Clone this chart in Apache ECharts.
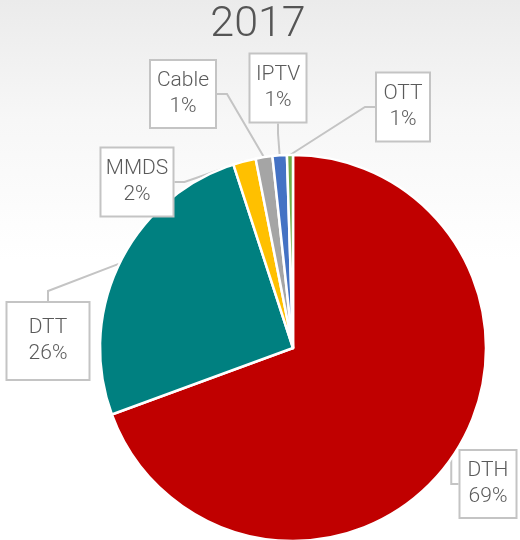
<!DOCTYPE html>
<html>
<head>
<meta charset="utf-8">
<script src="https://cdn.jsdelivr.net/npm/echarts@6/dist/echarts.min.js"></script>
<style>
  html, body { margin: 0; padding: 0; }
  #chart {
    width: 520px;
    height: 540px;
    background: linear-gradient(to bottom, #ebebeb 0px, #f7f7f7 120px, #ffffff 260px);
  }
</style>
</head>
<body>
<div id="chart"></div>
<script>
// 2017 platform share
var titleText = '2017';
var categories = ['DTH', 'DTT', 'MMDS', 'Cable', 'IPTV', 'OTT'];
var shares = [69.4, 25.6, 1.9, 1.4, 1.2, 0.5];
var colors = ['#C00000', '#008080', '#FFC000', '#A5A5A5', '#4472C4', '#70AD47'];

// callout box centres and sizes (px)
var labelPos = [[488, 484], [48, 341], [137, 182], [183, 94], [278, 88], [403, 107]];
var boxSize = [[57, 68], [83, 78], [73, 69], [66, 68], [57, 69], [54, 69]];

var fontName = 'Roboto, sans-serif';
var lineH = 26;

var chart = echarts.init(document.getElementById('chart'));

var data = categories.map(function (name, i) {
  var padV = Math.max(0, (boxSize[i][1] - 2 - lineH * 2) / 2);
  return {
    name: name,
    value: shares[i],
    itemStyle: { color: colors[i] },
    label: {
      width: boxSize[i][0] - 2,
      padding: [padV + 1, 0, padV - 1, 0]
    }
  };
});

chart.setOption({
  animation: false,
  title: {
    text: titleText,
    left: 253,
    textAlign: 'center',
    top: -1,
    textStyle: {
      color: '#555555',
      fontSize: 43,
      fontWeight: 300,
      fontFamily: fontName
    }
  },
  series: [{
    type: 'pie',
    center: [293, 348],
    radius: 193,
    startAngle: 90,
    clockwise: true,
    percentPrecision: 0,
    data: data,
    itemStyle: {
      borderColor: '#ffffff',
      borderWidth: 2.5
    },
    label: {
      show: true,
      position: 'outside',
      formatter: '{b}\n{d}%',
      overflow: 'none',
      color: '#5a5a5a',
      fontSize: 21,
      fontWeight: 300,
      fontFamily: fontName,
      lineHeight: lineH,
      align: 'center',
      backgroundColor: '#ffffff',
      borderColor: '#c4c4c4',
      borderWidth: 2
    },
    labelLine: {
      show: true,
      length: 10,
      length2: 10,
      lineStyle: { color: '#c4c4c4', width: 2 }
    },
    labelLayout: function (p) {
      var pos = labelPos[p.dataIndex];
      return {
        x: pos[0],
        y: pos[1],
        align: 'center',
        verticalAlign: 'middle'
      };
    }
  }]
});
</script>
</body>
</html>
